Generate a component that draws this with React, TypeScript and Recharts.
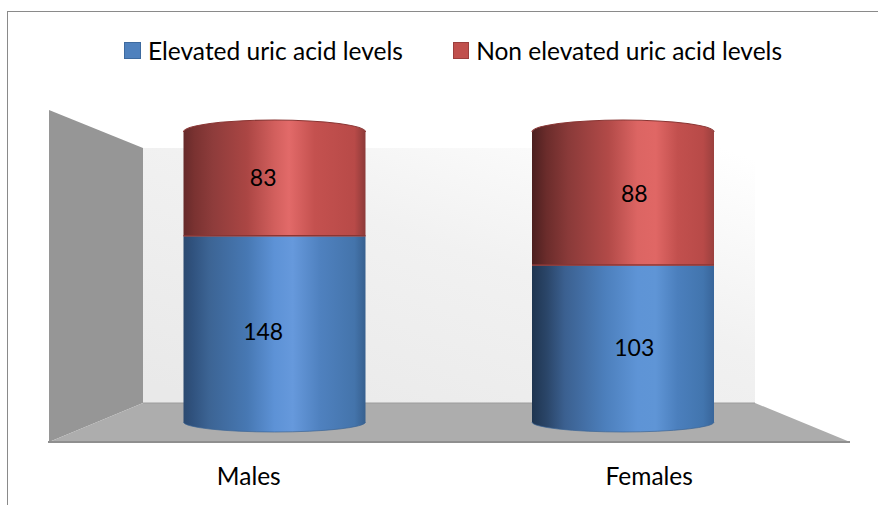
import React from 'react'
import {
  BarChart,
  Bar,
  XAxis,
  YAxis,
  Legend,
  LabelList,
  usePlotArea,
} from 'recharts'

const categories = ['Males', 'Females']
const elevated = [148, 103]
const nonElevated = [83, 88]

const elevatedName = 'Elevated uric acid levels'
const nonElevatedName = 'Non elevated uric acid levels'

const data = categories.map((name, i) => ({
  name,
  elevated: elevated[i],
  nonElevated: nonElevated[i],
}))

const FONT = 'Lato, Carlito, Calibri, sans-serif'

// [offset %, colour] across the cylinder, one set per category
const shades: Record<string, [number, string][][]> = {
  elevated: [
    [[0, '#2c4a70'], [5, '#30527e'], [14, '#3c6494'], [35, '#4778b3'], [50, '#5d92d6'], [60, '#6699dc'], [75, '#4f81bf'], [94, '#4474ab'], [100, '#37608f']],
    [[0, '#1f3550'], [8, '#2a4568'], [18, '#3b6090'], [40, '#4c7fbc'], [58, '#5e94d6'], [68, '#5f95d6'], [80, '#4b7fbd'], [94, '#4275ae'], [100, '#38659a']],
  ],
  nonElevated: [
    [[0, '#662a2a'], [6, '#7a3231'], [16, '#8e3c3b'], [35, '#ab4644'], [50, '#d25f5d'], [58, '#e26a69'], [72, '#c4514f'], [94, '#b84a48'], [100, '#8c3a39']],
    [[0, '#4b1f1f'], [8, '#6b2c2b'], [20, '#8a3a39'], [42, '#b24a48'], [58, '#dc6563'], [68, '#e06765'], [80, '#c2504e'], [94, '#b84a48'], [100, '#9a403e']],
  ],
}

// 3D chart: labels sit nearer to the viewer than the cylinders' axes
const labelDepth = 1.065
const tickDepth = 1.149

function Room() {
  const plot = usePlotArea()
  if (!plot) return null
  const { x, y } = plot
  const wallLeft = x - 51.5
  const wallRight = x + 42.5
  const backRight = x + 654.5
  const frontRight = x + 749.5
  const outerTop = y - 22
  const backTop = y + 16
  const floorBack = y + 271
  const floorFront = y + 310
  return (
    <g>
      <defs>
        <linearGradient id="backWall" x1="0.1" y1="1" x2="0.95" y2="0">
          <stop offset="0%" stopColor="#e9e9e9" />
          <stop offset="55%" stopColor="#f1f1f1" />
          <stop offset="100%" stopColor="#ffffff" />
        </linearGradient>
        {Object.entries(shades).flatMap(([key, sets]) =>
          sets.map((stops, i) => (
            <linearGradient key={key + i} id={`${key}-${i}`} x1="0" y1="0" x2="1" y2="0">
              {stops.map(([o, c]) => (
                <stop key={o} offset={`${o}%`} stopColor={c} />
              ))}
            </linearGradient>
          )),
        )}
      </defs>
      <rect
        x={wallRight}
        y={backTop}
        width={backRight - wallRight}
        height={floorBack - backTop}
        fill="url(#backWall)"
      />
      <polygon
        points={`${wallLeft},${outerTop} ${wallRight},${backTop} ${wallRight},${floorBack} ${wallLeft},${floorFront}`}
        fill="#969696"
      />
      <polygon
        points={`${wallRight},${floorBack} ${backRight},${floorBack} ${frontRight},${floorFront} ${wallLeft},${floorFront}`}
        fill="#adadad"
      />
      <line x1={wallLeft - 1} y1={floorFront} x2={frontRight} y2={floorFront} stroke="#8f8f8f" strokeWidth={2} />
      <line x1={wallRight} y1={floorBack} x2={backRight} y2={floorBack} stroke="#9c9c9c" />
    </g>
  )
}

function Cylinder(props: any) {
  const { x, y, width, height, index, seriesKey } = props
  const rx = width / 2
  const fill = `url(#${seriesKey}-${index})`
  if (seriesKey === 'elevated') {
    const ry = 10
    const bottom = y + height
    return (
      <g>
        <path
          d={`M${x},${y} H${x + width} V${bottom} A${rx},${ry} 0 0 1 ${x},${bottom} Z`}
          fill={fill}
        />
        <path
          d={`M${x},${bottom} A${rx},${ry} 0 0 0 ${x + width},${bottom}`}
          fill="none"
          stroke="#3a6494"
          strokeOpacity={0.7}
        />
      </g>
    )
  }
  const ry = 12
  const bottom = y + height
  return (
    <g>
      <path
        d={`M${x},${bottom} V${y} A${rx},${ry} 0 0 1 ${x + width},${y} V${bottom} Z`}
        fill={fill}
      />
      <path
        d={`M${x},${y} A${rx},${ry} 0 0 1 ${x + width},${y}`}
        fill="none"
        stroke="#8a3634"
        strokeWidth={1.2}
      />
      <line x1={x} y1={bottom - 0.5} x2={x + width} y2={bottom - 0.5} stroke="#8a3634" strokeWidth={1.5} />
    </g>
  )
}

function CylinderLabel(props: any) {
  const { x, y, width, height, value } = props
  const cx = x + width / 2
  const cy = y + height / 2
  // plot centre acts as the vanishing point
  const mid = { x: 449, y: 277 }
  return (
    <text
      x={mid.x + (cx - mid.x) * labelDepth}
      y={mid.y + (cy - mid.y) * labelDepth - 1}
      textAnchor="middle"
      dominantBaseline="central"
      fontFamily={FONT}
      fontSize={23}
      fill="#000"
    >
      {value}
    </text>
  )
}

function CategoryTick(props: any) {
  const { x, payload } = props
  const mid = 449
  return (
    <text
      x={mid + (x - mid) * tickDepth}
      y={475}
      textAnchor="middle"
      dominantBaseline="central"
      fontFamily={FONT}
      fontSize={24.5}
      fill="#000"
    >
      {payload.value}
    </text>
  )
}

function LegendRow({ payload }: any) {
  return (
    <div style={{ display: 'flex', fontFamily: FONT, fontSize: 24.5, color: '#000' }}>
      {(payload ?? []).map((entry: any) => (
        <div key={entry.value} style={{ display: 'flex', alignItems: 'center', width: 329 }}>
          <span
            style={{
              display: 'inline-block',
              width: 15,
              height: 15,
              marginRight: 7,
              background: entry.color,
              border: `1px solid ${entry.dataKey === 'elevated' ? '#3d6a9f' : '#9c3f3d'}`,
            }}
          />
          <span style={{ whiteSpace: 'nowrap' }}>{entry.value}</span>
        </div>
      ))}
    </div>
  )
}

export default function App() {
  return (
    <div
      style={{
        position: 'absolute',
        left: 0,
        top: 0,
        width: 878,
        height: 505,
        overflow: 'hidden',
        background: '#fff',
      }}
    >
      <div
        style={{
          position: 'absolute',
          left: 7,
          top: 11,
          right: 0,
          bottom: 0,
          borderLeft: '1.5px solid #8a8a8a',
          borderTop: '1.5px solid #8a8a8a',
        }}
      />
      <BarChart
        width={878}
        height={505}
        data={data}
        stackOffset="expand"
        barSize={182}
        margin={{ top: 132, right: 80.5, bottom: 0, left: 100.5 }}
        style={{ position: 'absolute', left: 0, top: 0 }}
      >
        <Room />
        <XAxis
          dataKey="name"
          height={83}
          axisLine={false}
          tickLine={false}
          interval={0}
          tick={<CategoryTick />}
        />
        <YAxis hide domain={[0, 1]} />
        <Legend
          layout="horizontal"
          verticalAlign="middle"
          align="center"
          content={<LegendRow />}
          wrapperStyle={{ left: 124, top: 36, width: 700 }}
        />
        <Bar
          dataKey="elevated"
          name={elevatedName}
          stackId="a"
          fill="#4f81bd"
          isAnimationActive={false}
          shape={(p: any) => <Cylinder {...p} seriesKey="elevated" />}
        >
          <LabelList dataKey="elevated" content={<CylinderLabel />} />
        </Bar>
        <Bar
          dataKey="nonElevated"
          name={nonElevatedName}
          stackId="a"
          fill="#c0504d"
          isAnimationActive={false}
          shape={(p: any) => <Cylinder {...p} seriesKey="nonElevated" />}
        >
          <LabelList dataKey="nonElevated" content={<CylinderLabel />} />
        </Bar>
      </BarChart>
    </div>
  )
}
